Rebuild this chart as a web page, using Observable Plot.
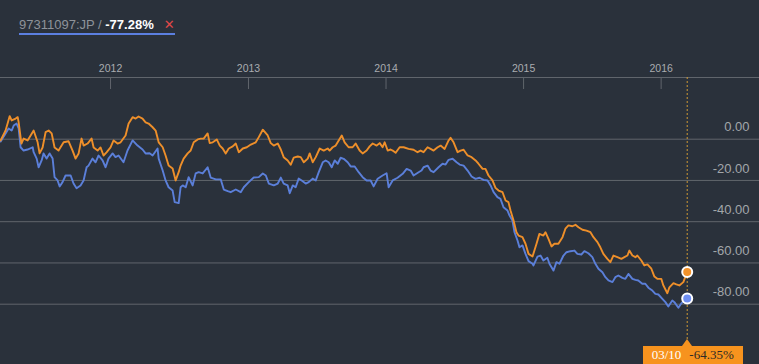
<!DOCTYPE html>
<html>
<head>
<meta charset="utf-8">
<script src="https://cdn.jsdelivr.net/npm/d3@7"></script>
<script src="https://cdn.jsdelivr.net/npm/@observablehq/plot@0.6"></script>
<style>
html,body{margin:0;padding:0;background:#2a313b;}
#wrap{position:relative;width:759px;height:364px;overflow:hidden;font-family:"Liberation Sans",Arial,sans-serif;}
#chart svg{display:block;background:linear-gradient(to bottom,#2a313b 0,#2a313b 345px,#1f252d 345px,#1f252d 364px);}
#legend{position:absolute;left:19px;top:18px;font-size:13px;line-height:13px;white-space:nowrap;padding-bottom:1.5px;border-bottom:2px solid #5b7fe0;}
#legend .name{color:#8e939a;}
#legend .val{color:#ffffff;font-weight:bold;}
#legend .x{color:#e04848;margin-left:10px;font-size:13px;font-family:"DejaVu Sans",sans-serif;}
#tag{position:absolute;top:346px;height:18px;width:100px;background:#f7931e;font-family:"Liberation Serif","Times New Roman",serif;font-size:13px;line-height:18px;white-space:nowrap;}
#tag .d{color:#ffffff;margin-left:9px;}
#tag .v{color:#2e2a26;margin-left:8px;}
#tag .tri{position:absolute;top:-7px;width:0;height:0;border-left:5px solid transparent;border-right:5px solid transparent;border-bottom:7px solid #f7931e;}
</style>
</head>
<body>
<div id="wrap">
  <div id="chart"></div>
  <div id="legend"><span class="name">97311097:JP / </span><span class="val">-77.28%</span><span class="x">✕</span></div>
  <div id="tag"><span class="tri"></span><span class="d">03/10</span><span class="v">-64.35%</span></div>
</div>
<script>
// [decimal year, % change]
const orangeSeries = [
[2011.201,-0.6],[2011.237,4.2],[2011.267,11.2],[2011.281,9.1],[2011.310,10.0],[2011.325,10.7],[2011.332,8.2],[2011.352,-2.1],[2011.368,0.3],[2011.397,-0.6],[2011.419,1.8],[2011.441,4.2],[2011.470,-1.5],[2011.484,-6.9],[2011.506,-4.0],[2011.528,3.4],[2011.550,4.2],[2011.572,2.8],[2011.593,-4.0],[2011.622,-5.5],[2011.659,-1.5],[2011.695,-1.0],[2011.724,-5.5],[2011.746,-9.4],[2011.768,-6.9],[2011.789,0.3],[2011.804,-3.1],[2011.833,-2.1],[2011.862,0.3],[2011.877,-4.0],[2011.906,-5.5],[2011.927,-4.0],[2011.949,-7.9],[2011.971,-6.4],
[2012.000,-4.0],[2012.022,-0.6],[2012.051,-2.1],[2012.073,-1.5],[2012.109,1.8],[2012.131,7.6],[2012.160,10.7],[2012.182,10.0],[2012.203,11.0],[2012.232,10.0],[2012.254,8.2],[2012.276,7.6],[2012.305,5.8],[2012.327,4.2],[2012.349,-1.5],[2012.378,-3.9],[2012.399,-7.9],[2012.421,-12.8],[2012.450,-14.2],[2012.472,-20.0],[2012.494,-16.0],[2012.508,-12.8],[2012.530,-9.4],[2012.559,-6.9],[2012.581,-5.5],[2012.603,-1.5],[2012.632,-0.1],[2012.654,0.3],[2012.675,0.3],[2012.704,2.8],[2012.719,-1.9],[2012.741,-1.5],[2012.770,-0.1],[2012.792,-3.1],[2012.813,-4.5],[2012.835,-6.9],[2012.857,-4.5],[2012.886,-3.5],[2012.908,-2.1],[2012.930,-6.3],[2012.959,-4.5],[2012.988,-3.9],
[2013.017,-2.6],[2013.053,-1.5],[2013.075,1.0],[2013.104,4.6],[2013.140,1.8],[2013.162,-1.9],[2013.184,-3.1],[2013.213,-2.1],[2013.235,-5.0],[2013.256,-8.7],[2013.285,-10.3],[2013.307,-12.4],[2013.329,-8.9],[2013.358,-8.4],[2013.380,-8.7],[2013.402,-11.2],[2013.431,-9.4],[2013.445,-6.9],[2013.467,-11.2],[2013.489,-8.7],[2013.518,-4.5],[2013.547,-5.5],[2013.576,-4.5],[2013.590,-5.5],[2013.612,-3.9],[2013.634,-3.1],[2013.656,-0.6],[2013.678,1.8],[2013.699,-1.5],[2013.728,-3.9],[2013.757,-3.9],[2013.779,-2.1],[2013.808,-5.5],[2013.830,-6.9],[2013.859,-5.5],[2013.881,-3.5],[2013.903,-2.1],[2013.932,-3.1],[2013.954,-1.9],[2013.975,-3.9],[2013.990,-1.5],
[2014.012,-5.5],[2014.033,-5.0],[2014.048,-5.5],[2014.070,-6.6],[2014.099,-3.9],[2014.128,-3.9],[2014.164,-4.7],[2014.200,-5.1],[2014.229,-6.3],[2014.251,-5.5],[2014.273,-6.3],[2014.302,-3.9],[2014.324,-4.7],[2014.346,-5.5],[2014.375,-3.9],[2014.397,-3.1],[2014.426,-4.7],[2014.455,-0.6],[2014.469,0.7],[2014.491,-1.5],[2014.520,-6.3],[2014.542,-5.5],[2014.564,-5.1],[2014.593,-7.9],[2014.622,-8.7],[2014.651,-10.3],[2014.672,-11.9],[2014.702,-14.4],[2014.723,-14.4],[2014.745,-17.6],[2014.774,-20.0],[2014.796,-23.6],[2014.818,-24.9],[2014.847,-25.7],[2014.869,-29.7],[2014.890,-30.5],[2014.905,-34.6],[2014.927,-39.4],[2014.948,-45.1],[2014.963,-46.7],[2014.992,-47.5],
[2015.014,-50.7],[2015.036,-55.6],[2015.065,-56.9],[2015.094,-50.7],[2015.115,-45.9],[2015.144,-46.7],[2015.159,-45.1],[2015.181,-48.3],[2015.203,-52.0],[2015.224,-50.7],[2015.253,-50.7],[2015.283,-47.5],[2015.304,-43.4],[2015.326,-41.8],[2015.355,-42.2],[2015.377,-41.5],[2015.399,-42.7],[2015.428,-43.9],[2015.457,-44.3],[2015.486,-45.1],[2015.508,-47.5],[2015.537,-49.9],[2015.558,-52.4],[2015.580,-55.6],[2015.609,-58.0],[2015.631,-59.6],[2015.653,-56.4],[2015.682,-57.2],[2015.711,-58.0],[2015.733,-57.2],[2015.755,-56.4],[2015.769,-54.0],[2015.791,-56.4],[2015.813,-57.2],[2015.827,-56.4],[2015.856,-58.8],[2015.878,-61.2],[2015.900,-60.7],[2015.929,-62.8],[2015.951,-66.6],[2015.972,-67.7],
[2016.001,-67.7],[2016.016,-70.9],[2016.045,-74.7],[2016.060,-71.8],[2016.089,-69.8],[2016.110,-70.4],[2016.132,-70.9],[2016.161,-69.3],[2016.189,-64.35]
];
const blueSeries = [
[2011.201,-1.1],[2011.237,2.8],[2011.259,5.2],[2011.281,4.2],[2011.296,6.6],[2011.317,7.6],[2011.332,5.2],[2011.346,-3.9],[2011.368,-5.5],[2011.397,-5.0],[2011.434,-3.9],[2011.441,-6.3],[2011.463,-9.4],[2011.477,-13.6],[2011.499,-10.3],[2011.513,-6.9],[2011.535,-9.4],[2011.557,-6.9],[2011.579,-9.4],[2011.593,-18.4],[2011.615,-20.0],[2011.630,-22.9],[2011.651,-20.8],[2011.673,-17.6],[2011.710,-17.6],[2011.731,-21.5],[2011.753,-23.8],[2011.782,-22.4],[2011.804,-20.0],[2011.826,-13.6],[2011.840,-12.8],[2011.869,-9.4],[2011.891,-11.2],[2011.913,-7.9],[2011.942,-10.3],[2011.964,-13.6],[2011.985,-9.4],
[2012.015,-6.9],[2012.036,-8.7],[2012.058,-7.9],[2012.094,-11.2],[2012.123,-5.5],[2012.160,-0.6],[2012.196,-3.1],[2012.232,-5.0],[2012.254,-6.9],[2012.283,-6.8],[2012.305,-7.9],[2012.341,-4.5],[2012.349,-9.4],[2012.378,-15.2],[2012.399,-20.0],[2012.421,-23.3],[2012.450,-24.9],[2012.465,-30.5],[2012.494,-31.0],[2012.508,-23.3],[2012.523,-22.4],[2012.545,-23.3],[2012.566,-18.4],[2012.595,-22.4],[2012.617,-16.6],[2012.639,-16.0],[2012.668,-16.6],[2012.704,-13.6],[2012.726,-18.6],[2012.763,-19.5],[2012.799,-19.5],[2012.821,-24.4],[2012.850,-25.2],[2012.871,-25.7],[2012.908,-24.4],[2012.944,-25.7],[2012.966,-23.3],
[2013.002,-20.8],[2013.038,-18.6],[2013.075,-18.4],[2013.104,-16.6],[2013.126,-17.6],[2013.148,-21.5],[2013.184,-22.4],[2013.213,-21.5],[2013.235,-18.6],[2013.256,-21.5],[2013.285,-22.4],[2013.300,-26.2],[2013.322,-22.4],[2013.343,-23.3],[2013.365,-19.1],[2013.387,-20.0],[2013.416,-21.5],[2013.438,-20.8],[2013.467,-19.1],[2013.489,-20.0],[2013.511,-16.0],[2013.540,-11.2],[2013.561,-10.3],[2013.583,-11.2],[2013.605,-13.6],[2013.627,-10.3],[2013.649,-11.9],[2013.670,-9.0],[2013.692,-9.5],[2013.721,-11.2],[2013.743,-13.2],[2013.772,-13.2],[2013.801,-16.0],[2013.830,-18.4],[2013.859,-20.0],[2013.888,-20.0],[2013.910,-22.9],[2013.939,-19.2],[2013.975,-17.6],
[2014.004,-16.5],[2014.019,-23.3],[2014.048,-20.0],[2014.084,-18.7],[2014.121,-16.8],[2014.150,-14.4],[2014.179,-15.2],[2014.200,-17.6],[2014.237,-16.0],[2014.258,-15.2],[2014.273,-13.6],[2014.302,-12.8],[2014.324,-15.2],[2014.346,-16.0],[2014.382,-13.6],[2014.411,-11.9],[2014.433,-12.3],[2014.455,-10.0],[2014.484,-9.5],[2014.513,-11.2],[2014.535,-12.3],[2014.564,-12.8],[2014.593,-15.2],[2014.622,-18.1],[2014.651,-19.2],[2014.680,-18.7],[2014.709,-19.7],[2014.738,-20.0],[2014.760,-22.4],[2014.782,-25.7],[2014.810,-28.1],[2014.832,-28.9],[2014.854,-33.0],[2014.883,-34.6],[2014.898,-37.0],[2014.919,-39.4],[2014.934,-45.1],[2014.956,-49.1],[2014.970,-52.4],[2014.992,-51.5],
[2015.014,-55.6],[2015.036,-59.1],[2015.065,-60.4],[2015.072,-61.2],[2015.101,-56.9],[2015.123,-56.4],[2015.144,-58.8],[2015.173,-57.5],[2015.188,-60.4],[2015.217,-63.7],[2015.239,-59.6],[2015.261,-60.4],[2015.290,-56.4],[2015.312,-54.8],[2015.341,-54.3],[2015.370,-54.0],[2015.391,-55.6],[2015.420,-55.9],[2015.442,-54.3],[2015.471,-55.3],[2015.500,-57.2],[2015.522,-60.4],[2015.544,-62.8],[2015.573,-64.5],[2015.595,-66.9],[2015.617,-68.5],[2015.646,-69.3],[2015.667,-66.9],[2015.689,-66.1],[2015.718,-67.2],[2015.740,-67.7],[2015.762,-65.3],[2015.791,-67.7],[2015.813,-68.2],[2015.834,-68.5],[2015.863,-70.1],[2015.885,-70.1],[2015.907,-72.0],[2015.936,-73.4],[2015.958,-75.0],[2015.980,-75.3],
[2016.009,-77.4],[2016.031,-79.0],[2016.052,-81.1],[2016.081,-78.2],[2016.096,-79.0],[2016.125,-81.7],[2016.147,-79.5],[2016.169,-78.2],[2016.189,-77.28]
];
const yearTicks = [2012, 2013, 2014, 2015, 2016];
const yTicks = [0, -20, -40, -60, -80];
const endLabel = "03/10";

function fromDecimal(t) {
  const y = Math.floor(t);
  const a = Date.UTC(y, 0, 1), b = Date.UTC(y + 1, 0, 1);
  return new Date(a + (t - y) * (b - a));
}
const toRows = s => s.map(([t, v]) => ({date: fromDecimal(t), value: v}));
const orange = toRows(orangeSeries);
const blue = toRows(blueSeries);
const yearDates = yearTicks.map(y => new Date(Date.UTC(y, 0, 1)));
const ends = [
  {date: blue[blue.length - 1].date, value: blue[blue.length - 1].value, c: "#6f8ff2"},
  {date: orange[orange.length - 1].date, value: orange[orange.length - 1].value, c: "#f39229"}
];
const W = 759, H = 364, MT = 77, MB = 19;

const chart = Plot.plot({
  width: W, height: H,
  marginTop: MT, marginBottom: MB, marginLeft: 0, marginRight: 0,
  style: {background: "transparent", fontFamily: "'Liberation Sans', Arial, sans-serif", overflow: "visible"},
  x: {type: "utc", domain: [new Date("2011-03-15"), new Date("2016-09-18")], axis: null},
  y: {domain: [0, -80], range: [138.7, 303.7], axis: null},
  marks: [
    Plot.frame({anchor: "top", stroke: "#60656c"}),
    Plot.tickX(yearDates, {x: d => d, stroke: "#60656c", insetBottom: H - MT - MB - 12}),
    Plot.text(yearDates, {x: d => d, text: d => String(d.getUTCFullYear()), frameAnchor: "top", dy: -13, fill: "#a9acb0", fontSize: 10.5}),
    Plot.ruleY(yTicks, {stroke: "#60656c"}),
    Plot.text(yTicks, {y: d => d, text: d => d.toFixed(2), frameAnchor: "right", textAnchor: "end", dx: -10, dy: -12, fill: "#a2a6aa", fontSize: 13}),
    Plot.ruleX([ends[0].date], {stroke: "#d09a34", strokeDasharray: "2,2"}),
    Plot.line(blue, {x: "date", y: "value", stroke: "#5b7fd9", strokeWidth: 1.9}),
    Plot.line(orange, {x: "date", y: "value", stroke: "#ee8f2a", strokeWidth: 1.9}),
    Plot.dot(ends, {x: "date", y: "value", r: 5, fill: "c", stroke: "#ffffff", strokeWidth: 2})
  ]
});
document.getElementById("chart").appendChild(chart);

const xPos = chart.scale("x").apply(ends[0].date);
const tag = document.getElementById("tag");
tag.style.left = (xPos - 44) + "px";
tag.querySelector(".tri").style.left = (44 - 5) + "px";
tag.querySelector(".d").textContent = endLabel;
tag.querySelector(".v").textContent = ends[1].value.toFixed(2) + "%";
</script>
</body>
</html>
